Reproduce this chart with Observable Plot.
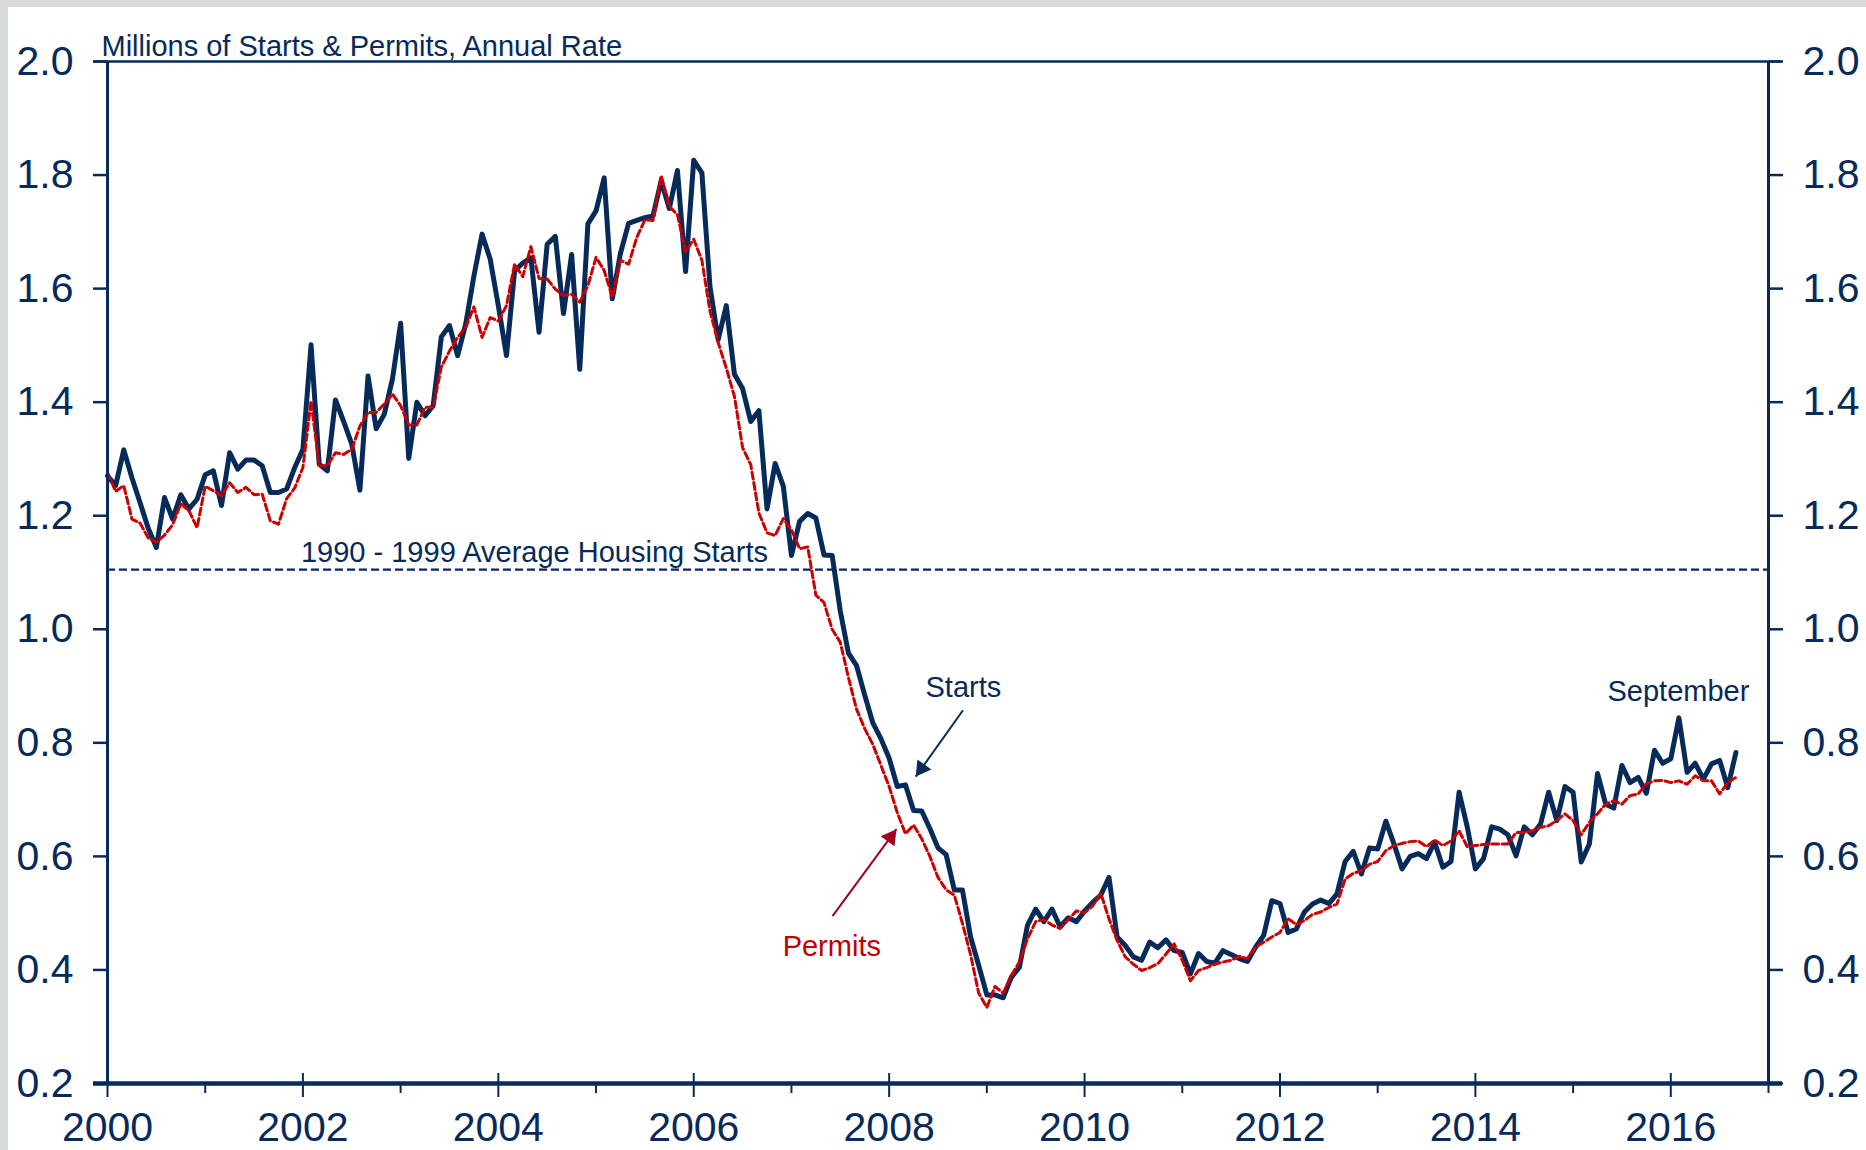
<!DOCTYPE html>
<html>
<head>
<meta charset="utf-8">
<script src="https://cdn.jsdelivr.net/npm/d3@7"></script>
<script src="https://cdn.jsdelivr.net/npm/@observablehq/plot@0.6"></script>
<style>
html, body { margin: 0; padding: 0; background: #d7dcdb; width: 1866px; height: 1150px; overflow: hidden; }
#page { position: absolute; left: 8px; top: 7px; width: 1858px; height: 1143px; background: #ffffff; overflow: hidden; }
</style>
</head>
<body>
<div id="page"></div>
<script>
// ---- Data: single-family housing starts & permits, millions, SAAR (Jan 2000 - Sep 2016) ----
const firstYear = 2000;
const starts = [
  1.270, 1.253, 1.316, 1.267, 1.223, 1.178, 1.144, 1.232, 1.194, 1.237, 1.212, 1.229, // 2000
  1.272, 1.279, 1.218, 1.311, 1.282, 1.298, 1.298, 1.288, 1.241, 1.241, 1.247, 1.285, // 2001
  1.317, 1.501, 1.291, 1.279, 1.404, 1.366, 1.326, 1.245, 1.446, 1.353, 1.379, 1.441, // 2002
  1.539, 1.301, 1.400, 1.376, 1.394, 1.515, 1.535, 1.482, 1.538, 1.622, 1.696, 1.652, // 2003
  1.570, 1.482, 1.631, 1.645, 1.654, 1.523, 1.678, 1.692, 1.556, 1.660, 1.458, 1.714, // 2004
  1.737, 1.795, 1.582, 1.662, 1.715, 1.720, 1.725, 1.728, 1.790, 1.741, 1.808, 1.630, // 2005
  1.826, 1.804, 1.603, 1.510, 1.570, 1.449, 1.424, 1.366, 1.385, 1.212, 1.292, 1.252, // 2006
  1.130, 1.190, 1.204, 1.196, 1.131, 1.130, 1.032, 0.958, 0.936, 0.884, 0.835, 0.807, // 2007
  0.773, 0.723, 0.726, 0.681, 0.680, 0.649, 0.615, 0.603, 0.541, 0.541, 0.458, 0.408, // 2008
  0.356, 0.356, 0.351, 0.387, 0.405, 0.479, 0.507, 0.485, 0.507, 0.476, 0.492, 0.485, // 2009
  0.504, 0.519, 0.532, 0.563, 0.458, 0.443, 0.423, 0.417, 0.449, 0.439, 0.453, 0.434, // 2010
  0.431, 0.393, 0.429, 0.415, 0.412, 0.434, 0.427, 0.420, 0.415, 0.440, 0.461, 0.522, // 2011
  0.517, 0.466, 0.472, 0.502, 0.516, 0.523, 0.517, 0.534, 0.591, 0.609, 0.569, 0.615, // 2012
  0.613, 0.662, 0.622, 0.578, 0.600, 0.605, 0.596, 0.625, 0.581, 0.591, 0.713, 0.652, // 2013
  0.578, 0.596, 0.652, 0.648, 0.638, 0.601, 0.652, 0.638, 0.657, 0.713, 0.663, 0.723, // 2014
  0.713, 0.590, 0.622, 0.746, 0.692, 0.685, 0.760, 0.730, 0.739, 0.711, 0.787, 0.764, // 2015
  0.772, 0.844, 0.748, 0.764, 0.736, 0.763, 0.769, 0.721, 0.783                        // 2016
];
const permits = [
  1.276, 1.243, 1.253, 1.194, 1.187, 1.161, 1.153, 1.166, 1.184, 1.221, 1.209, 1.179, // 2000
  1.252, 1.244, 1.235, 1.258, 1.241, 1.250, 1.237, 1.238, 1.191, 1.185, 1.230, 1.249, // 2001
  1.285, 1.402, 1.288, 1.288, 1.311, 1.308, 1.317, 1.358, 1.382, 1.382, 1.397, 1.414, // 2002
  1.394, 1.360, 1.360, 1.391, 1.391, 1.462, 1.490, 1.514, 1.532, 1.568, 1.514, 1.549, // 2003
  1.543, 1.570, 1.643, 1.621, 1.674, 1.618, 1.617, 1.599, 1.588, 1.590, 1.576, 1.605, // 2004
  1.655, 1.632, 1.585, 1.650, 1.643, 1.690, 1.721, 1.720, 1.799, 1.745, 1.730, 1.665, // 2005
  1.687, 1.650, 1.560, 1.505, 1.460, 1.410, 1.320, 1.290, 1.205, 1.170, 1.165, 1.195, // 2006
  1.175, 1.142, 1.145, 1.060, 1.047, 1.000, 0.977, 0.915, 0.859, 0.825, 0.797, 0.760, // 2007
  0.723, 0.677, 0.640, 0.655, 0.631, 0.600, 0.563, 0.541, 0.532, 0.482, 0.427, 0.359, // 2008
  0.334, 0.371, 0.359, 0.390, 0.414, 0.455, 0.485, 0.489, 0.479, 0.473, 0.489, 0.504, // 2009
  0.501, 0.513, 0.535, 0.490, 0.452, 0.423, 0.410, 0.399, 0.404, 0.411, 0.428, 0.446, // 2010
  0.417, 0.381, 0.399, 0.404, 0.410, 0.414, 0.417, 0.424, 0.420, 0.440, 0.449, 0.458, // 2011
  0.466, 0.490, 0.480, 0.487, 0.498, 0.502, 0.510, 0.516, 0.560, 0.570, 0.575, 0.586, // 2012
  0.591, 0.610, 0.619, 0.623, 0.626, 0.627, 0.617, 0.629, 0.619, 0.627, 0.645, 0.617, // 2013
  0.619, 0.621, 0.622, 0.622, 0.622, 0.642, 0.642, 0.645, 0.651, 0.654, 0.663, 0.675, // 2014
  0.663, 0.638, 0.660, 0.675, 0.692, 0.698, 0.692, 0.707, 0.710, 0.728, 0.733, 0.734, // 2015
  0.730, 0.733, 0.727, 0.742, 0.733, 0.733, 0.710, 0.730, 0.739                        // 2016
];
const average1990s = 1.105;
const yTicks = [0.2, 0.4, 0.6, 0.8, 1.0, 1.2, 1.4, 1.6, 1.8, 2.0];
const majorYears = [2000, 2002, 2004, 2006, 2008, 2010, 2012, 2014, 2016];
const minorYears = [2001, 2003, 2005, 2007, 2009, 2011, 2013, 2015, 2017];
const xDomain = [2000, 2017];
const yDomain = [0.2, 2.0];

// annotation anchors (data units)
const titleNote = [{x: 2000, y: 2.0, text: "Millions of Starts & Permits, Annual Rate"}];
const avgNote = [{x: 2001.98, y: average1990s, text: "1990 - 1999 Average Housing Starts"}];
const startsNote = [{x: 2008.76, y: 0.8965, text: "Starts"}];
const permitsNote = [{x: 2007.413, y: 0.4417, text: "Permits"}];
const septNote = [{x: 2016.078, y: 0.8907, text: "September"}];
const startsArrow = [{x1: 2008.756, y1: 0.8574, x2: 2008.272, y2: 0.7405}];
const permitsArrow = [{x1: 2007.420, y1: 0.4947, x2: 2008.075, y2: 0.6479}];

// ---- Styles ----
const navy = "#062a5a";
const dashRed = "#cc0000";
const labelRed = "#c00000";
const arrowRed = "#a00024";
const font = "'Liberation Sans', Arial, Helvetica, sans-serif";

const rows = starts.map((v, i) => ({date: firstYear + i / 12, starts: v, permits: permits[i]}));

const chart = Plot.plot({
  width: 1858,
  height: 1143,
  marginLeft: 99,
  marginRight: 98,
  marginTop: 54,
  marginBottom: 67,
  style: {fontFamily: font, color: navy, background: "transparent", overflow: "visible"},
  x: {type: "linear", domain: xDomain},
  y: {type: "linear", domain: yDomain},
  marks: [
    Plot.ruleY([average1990s], {stroke: navy, strokeWidth: 2.2, strokeDasharray: "8,4"}),
    Plot.line(rows, {x: "date", y: "starts", stroke: navy, strokeWidth: 5, strokeLinejoin: "round"}),
    Plot.line(rows, {x: "date", y: "permits", stroke: dashRed, strokeWidth: 3, strokeDasharray: "7,3.5"}),
    Plot.ruleX([xDomain[0], xDomain[1]], {stroke: navy, strokeWidth: 3}),
    Plot.ruleY([yDomain[1]], {stroke: navy, strokeWidth: 2.5, insetLeft: -14, insetRight: -14}),
    Plot.ruleY([yDomain[0]], {stroke: navy, strokeWidth: 4.5, insetLeft: -14, insetRight: -14}),
    Plot.axisY(yTicks, {anchor: "left", tickSize: 14, tickPadding: 20, fontSize: 41, strokeWidth: 2.5,
      stroke: navy, fill: navy, tickFormat: d3.format(".1f"), label: null}),
    Plot.axisY(yTicks, {anchor: "right", tickSize: 14, tickPadding: 20, fontSize: 41, strokeWidth: 2.5,
      stroke: navy, fill: navy, tickFormat: d3.format(".1f"), label: null}),
    Plot.ruleX(majorYears, {y1: yDomain[0], y2: yDomain[0], insetTop: 14, insetBottom: 10, stroke: navy, strokeWidth: 2}),
    Plot.ruleX(minorYears, {y1: yDomain[0], y2: yDomain[0], insetTop: 10, insetBottom: 0, stroke: navy, strokeWidth: 2}),
    Plot.axisX(majorYears, {anchor: "bottom", tickSize: 0, tickPadding: 28, fontSize: 41, fill: navy,
      tickFormat: d => String(d), label: null}),
    // annotations
    Plot.text(titleNote, {x: "x", y: "y", text: "text", textAnchor: "start", lineAnchor: "bottom",
      dx: -6, dy: -6, fontSize: 29, fill: navy}),
    Plot.text(avgNote, {x: "x", y: "y", text: "text", textAnchor: "start", lineAnchor: "bottom",
      dy: -8, fontSize: 29, fill: navy}),
    Plot.text(startsNote, {x: "x", y: "y", text: "text", textAnchor: "middle", lineAnchor: "middle",
      fontSize: 29, fill: navy}),
    Plot.text(permitsNote, {x: "x", y: "y", text: "text", textAnchor: "middle", lineAnchor: "middle",
      fontSize: 29, fill: labelRed}),
    Plot.text(septNote, {x: "x", y: "y", text: "text", textAnchor: "middle", lineAnchor: "middle",
      fontSize: 29, fill: navy}),
    Plot.link(startsArrow, {x1: "x1", y1: "y1", x2: "x2", y2: "y2", stroke: navy, strokeWidth: 2}),
    Plot.dot(startsArrow, {x: "x2", y: "y2", symbol: "triangle", r: 6.4, fill: navy, stroke: "none",
      rotate: 215.4, dx: 5.8, dy: -8.15}),
    Plot.link(permitsArrow, {x1: "x1", y1: "y1", x2: "x2", y2: "y2", stroke: arrowRed, strokeWidth: 2}),
    Plot.dot(permitsArrow, {x: "x2", y: "y2", symbol: "triangle", r: 6.4, fill: arrowRed, stroke: "none",
      rotate: 36.3, dx: -5.93, dy: 8.06})
  ]
});
document.getElementById("page").appendChild(chart);
</script>
</body>
</html>
